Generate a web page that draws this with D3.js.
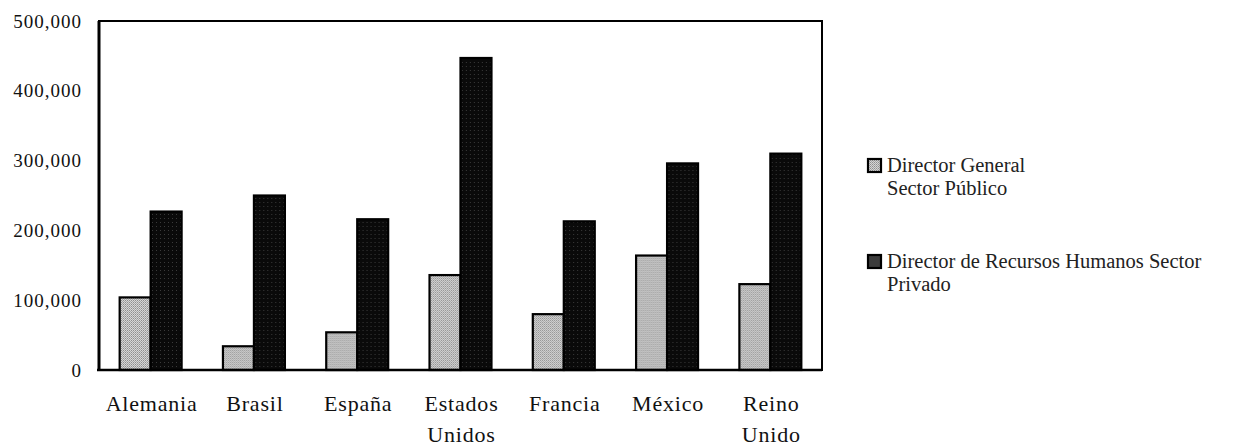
<!DOCTYPE html>
<html>
<head>
<meta charset="utf-8">
<script src="https://cdn.jsdelivr.net/npm/d3@7"></script>
<style>
  html, body { margin: 0; padding: 0; background: #fff; }
  svg { display: block; }
</style>
</head>
<body>
<svg id="chart" width="1237" height="447"></svg>
<script>
// Countries on the x axis (second line of each label after "\n")
const categories = ["Alemania", "Brasil", "España", "Estados\nUnidos", "Francia", "México", "Reino\nUnido"];
// Series names
const seriesNames = ["Director General\nSector Público", "Director de Recursos Humanos  Sector\nPrivado"];
// Annual salary values per country
const publicoValues = [104000, 34000, 54000, 136000, 80000, 164000, 123000];
const privadoValues = [227000, 250000, 216000, 447000, 213000, 296000, 310000];
// Y axis ticks
const yTicks = [0, 100000, 200000, 300000, 400000, 500000];

const FONT = "Liberation Serif, Times New Roman, serif";
const svg = d3.select("#chart");

// Stipple fills for the two series
const defs = svg.append("defs");
const pLight = defs.append("pattern").attr("id", "fillLight")
  .attr("width", 2).attr("height", 2).attr("patternUnits", "userSpaceOnUse");
pLight.append("rect").attr("width", 2).attr("height", 2).attr("fill", "#d6d6d6");
pLight.append("rect").attr("width", 1).attr("height", 1).attr("fill", "#8f8f8f");
pLight.append("rect").attr("x", 1).attr("y", 1).attr("width", 1).attr("height", 1).attr("fill", "#a8a8a8");
const pDark = defs.append("pattern").attr("id", "fillDark")
  .attr("width", 4).attr("height", 4).attr("patternUnits", "userSpaceOnUse");
pDark.append("rect").attr("width", 4).attr("height", 4).attr("fill", "#0a0a0a");
pDark.append("rect").attr("x", 1).attr("y", 2).attr("width", 1).attr("height", 1).attr("fill", "#3a3a3a");

const plotLeft = 99, plotRight = 822, plotTop = 21, plotBottom = 370;

const y = d3.scaleLinear().domain([0, 500000]).range([plotBottom, plotTop]);
const x0 = d3.scaleBand().domain(categories).range([plotLeft, plotRight]).padding(0);
const x1 = d3.scaleBand().domain([0, 1]).range([0, x0.bandwidth()])
  .paddingInner(0).paddingOuter(0.667);

const rows = categories.map((c, i) => ({ cat: c, vals: [publicoValues[i], privadoValues[i]] }));
const fills = ["url(#fillLight)", "url(#fillDark)"];

// Bars
const groups = svg.append("g").selectAll("g").data(rows).join("g")
  .attr("transform", d => `translate(${x0(d.cat)},0)`);
groups.selectAll("rect").data(d => d.vals.map((v, k) => ({ v, k }))).join("rect")
  .attr("x", d => x1(d.k))
  .attr("width", x1.bandwidth())
  .attr("y", d => y(d.v))
  .attr("height", d => y(0) - y(d.v))
  .attr("fill", d => fills[d.k])
  .attr("stroke", "#000")
  .attr("stroke-width", 2.2);

// Frame around the plot area
svg.append("rect")
  .attr("x", plotLeft).attr("y", plotTop)
  .attr("width", plotRight - plotLeft).attr("height", plotBottom - plotTop)
  .attr("fill", "none").attr("stroke", "#000").attr("stroke-width", 2);
svg.append("line")
  .attr("x1", plotLeft).attr("x2", plotLeft).attr("y1", plotTop).attr("y2", plotBottom)
  .attr("stroke", "#000").attr("stroke-width", 3);
svg.append("line")
  .attr("x1", plotLeft - 2).attr("x2", plotRight).attr("y1", plotBottom).attr("y2", plotBottom)
  .attr("stroke", "#000").attr("stroke-width", 2.5);

// Y axis labels
const fmt = d3.format(",");
const yAxis = svg.append("g").attr("transform", `translate(${plotLeft},0)`)
  .call(d3.axisLeft(y).tickValues(yTicks).tickFormat(fmt).tickSize(0).tickPadding(17));
yAxis.select(".domain").remove();
yAxis.attr("font-family", FONT).attr("font-size", 19);
yAxis.selectAll("text")
  .attr("font-family", FONT)
  .attr("font-size", 19)
  .attr("letter-spacing", "1px")
  .attr("fill", "#111");

// X axis labels (two lines where needed)
const xLab = svg.append("g").selectAll("text").data(categories).join("text")
  .attr("x", d => x0(d) + x0.bandwidth() / 2 + 1)
  .attr("y", 411)
  .attr("text-anchor", "middle")
  .attr("font-family", FONT)
  .attr("font-size", 22)
  .attr("letter-spacing", "0.8px")
  .attr("fill", "#111");
xLab.selectAll("tspan").data(d => d.split("\n")).join("tspan")
  .attr("x", function () { return d3.select(this.parentNode).attr("x"); })
  .attr("dy", (d, i) => i === 0 ? 0 : 31)
  .text(d => d);

// Legend
const legendY = [172, 268];
const legend = svg.append("g").selectAll("g").data(seriesNames).join("g");
legend.append("rect")
  .attr("x", 868).attr("y", (d, i) => legendY[i] - 13)
  .attr("width", 13).attr("height", 13)
  .attr("fill", (d, i) => i === 0 ? "url(#fillLight)" : "#3c3c3c")
  .attr("stroke", "#000").attr("stroke-width", 2.2);
const legText = legend.append("text")
  .attr("x", 887).attr("y", (d, i) => legendY[i])
  .attr("font-family", FONT)
  .attr("font-size", 20.5)
  .attr("fill", "#222");
legText.selectAll("tspan").data(d => d.split("\n")).join("tspan")
  .attr("x", 887)
  .attr("dy", (d, i) => i === 0 ? 0 : 23)
  .text(d => d);
</script>
</body>
</html>
